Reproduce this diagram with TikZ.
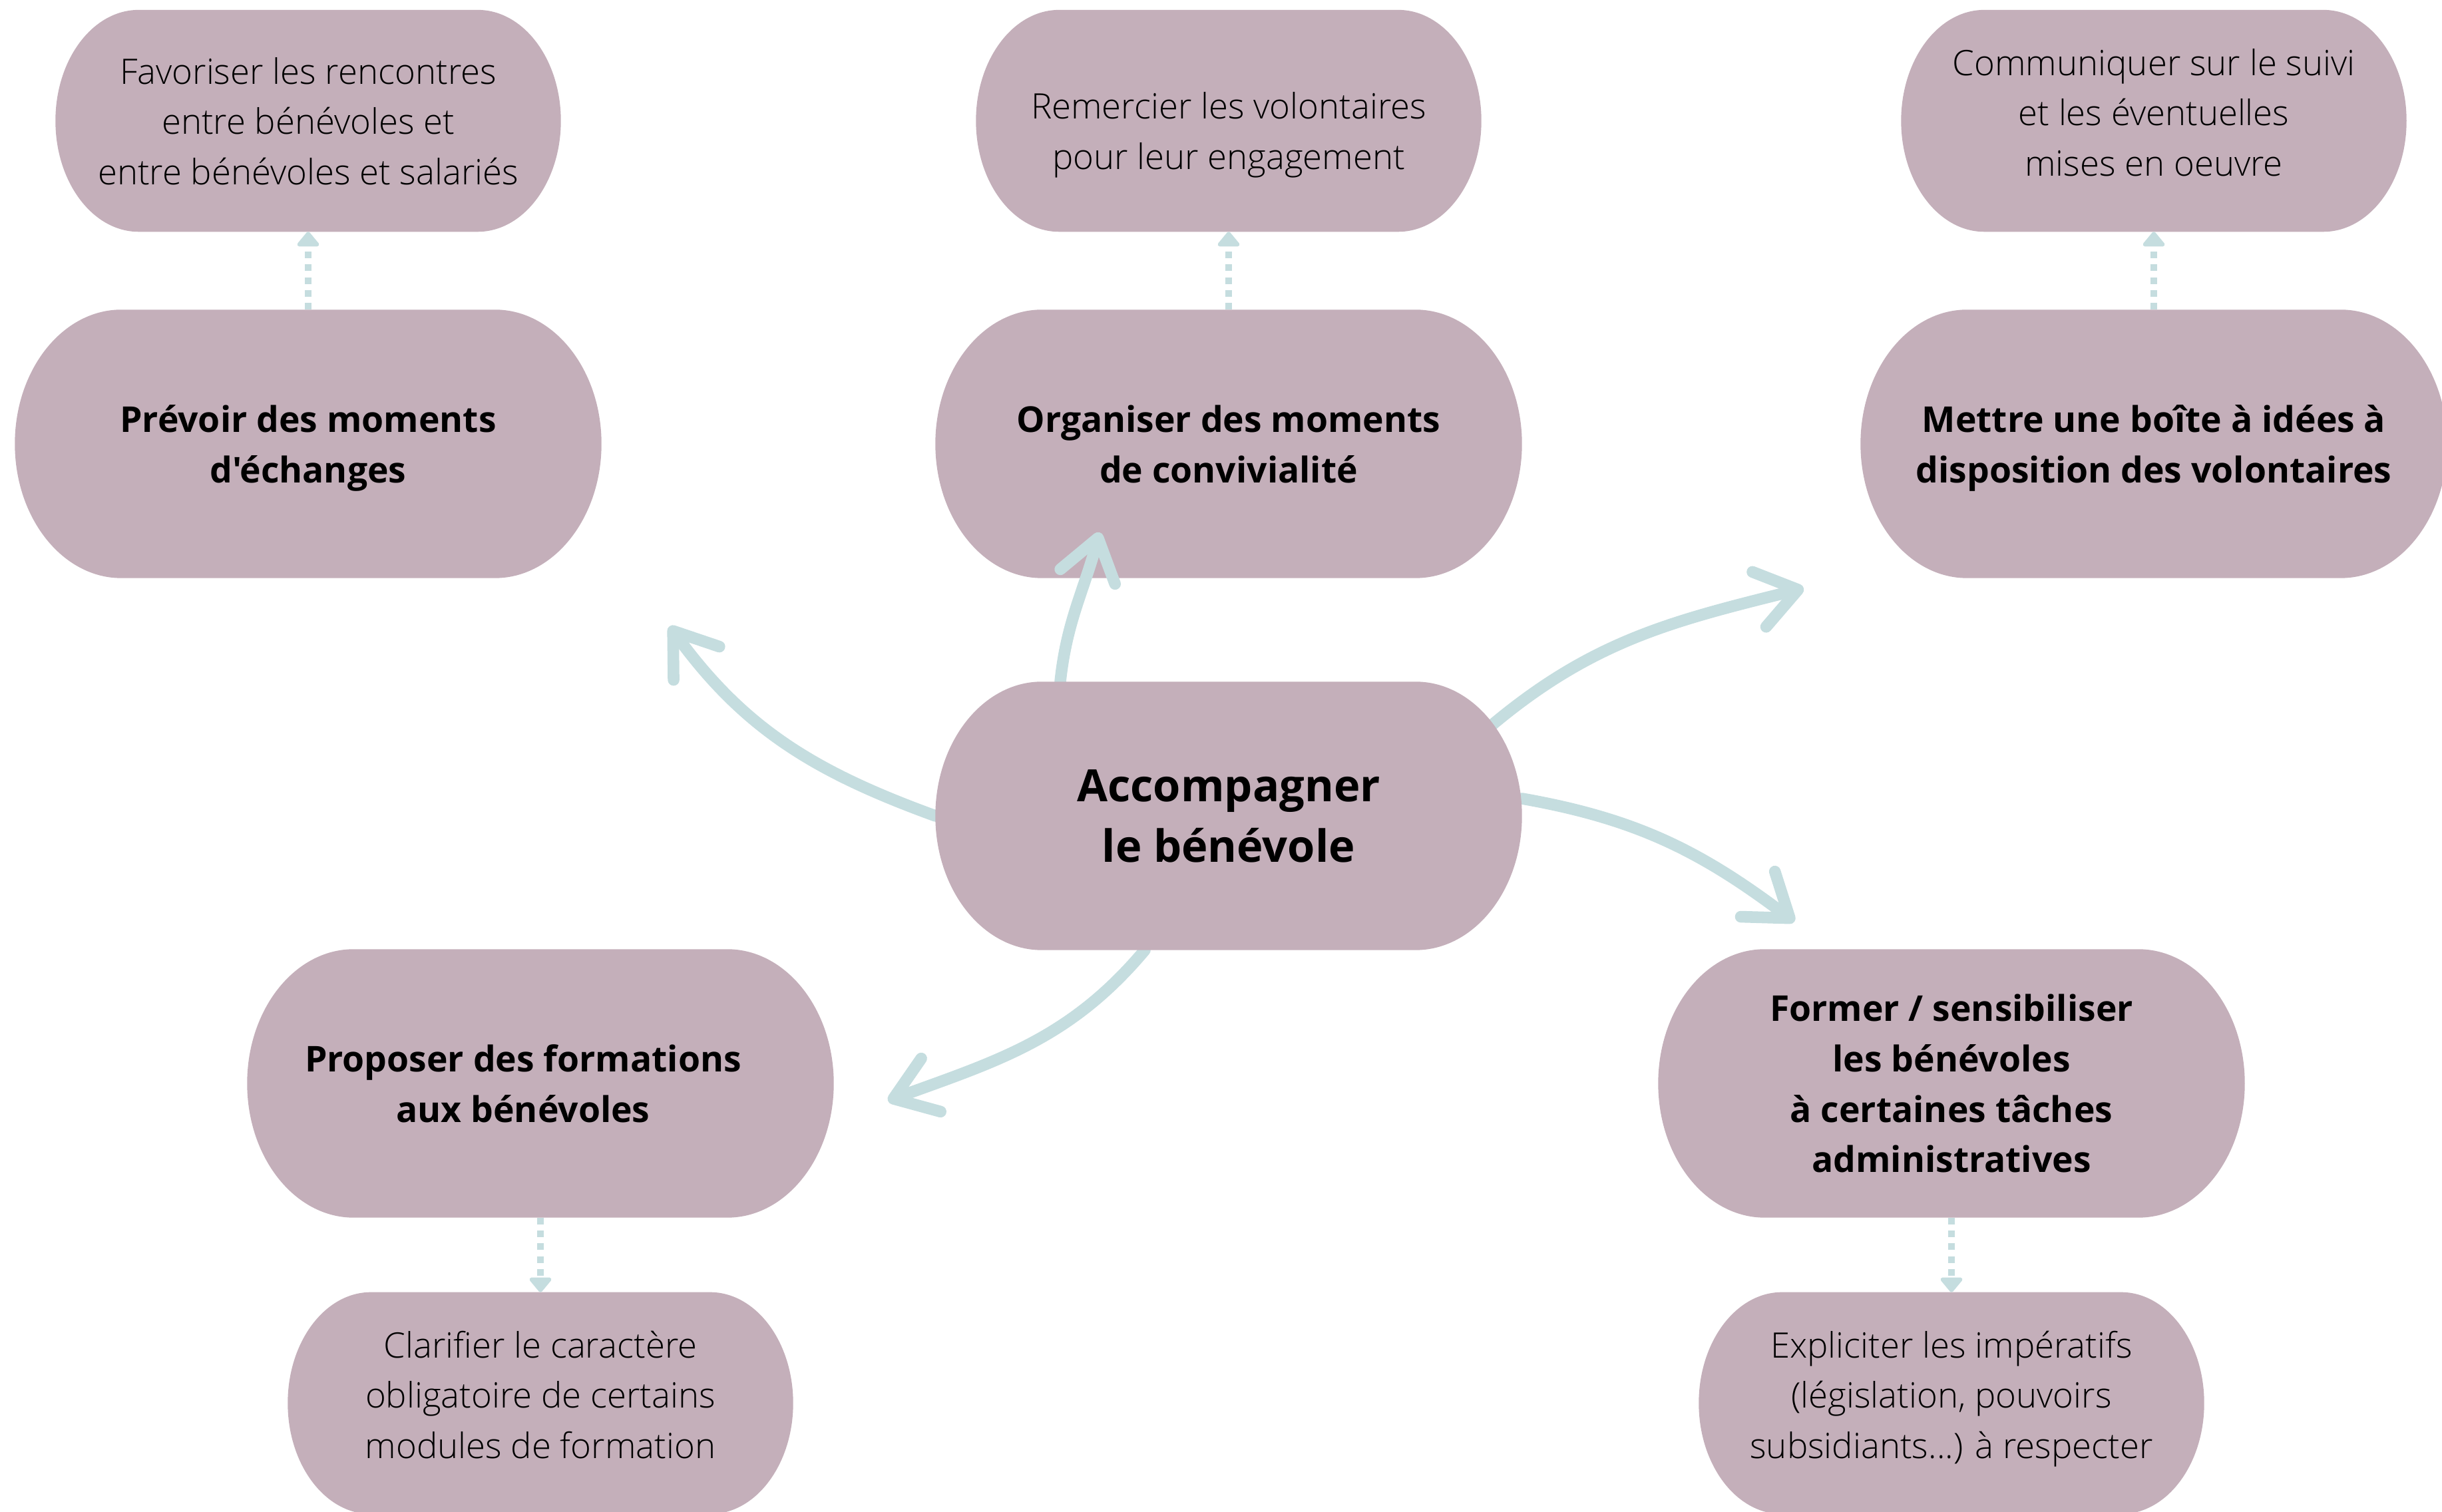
\documentclass[tikz,border=0pt]{standalone}
\usepackage{fontspec}
\setmainfont{Open Sans}[Ligatures=TeXOff]
\IfFontExistsTF{OpenSans-Light.ttf}
  {\newfontfamily\lightfont{OpenSans-Light.ttf}[Ligatures=TeXOff]}
  {\IfFontExistsTF{Open Sans Light}
    {\newfontfamily\lightfont{Open Sans Light}[Ligatures=TeXOff]}
    {\newfontfamily\lightfont{Open Sans}[Ligatures=TeXOff]}}
\usetikzlibrary{positioning,calc,arrows.meta,backgrounds}

\definecolor{pillmauve}{RGB}{196,175,186}
\definecolor{arrowteal}{RGB}{197,221,223}

% pill behind a node: #1 node name, #2 horizontal radius of the ends
\newcommand\pillfill[2]{%
  \fill[pillmauve] let \p1=(#1.north west), \p2=(#1.south east), \n1={(\y1-\y2)/2} in
    (\x1+#2,\y1) -- (\x2-#2,\y1)
    arc[start angle=90,end angle=-90,x radius=#2,y radius=\n1]
    -- (\x1+#2,\y2)
    arc[start angle=270,end angle=90,x radius=#2,y radius=\n1] -- cycle;}

\begin{document}
\begin{tikzpicture}[
    big/.style={minimum width=8.8cm,minimum height=4.02cm,align=center,inner sep=0pt,
      text depth=0pt,font=\fontsize{15.2}{21.5}\selectfont\bfseries},
    small/.style={minimum width=7.58cm,minimum height=3.32cm,align=center,inner sep=0pt,
      text depth=0.26cm,font=\fontsize{15}{21.5}\selectfont\lightfont},
    curvy/.style={arrowteal,line width=5pt,line cap=round,
      -{Straight Barb[length=6mm,width=8.5mm,round]}},
    dots/.style={arrowteal,line width=2.9pt,dash pattern=on 2.8pt off 2.7pt,
      -{Triangle[length=2.4mm,width=3.8mm,round]}}]
 \useasboundingbox (0,0) rectangle (36.69,22.72);

 % main ideas
 \node[big] (prevoir) at (4.63,16.05) {Prévoir des moments\\d'échanges};
 \node[big] (organiser) at (18.46,16.05) {Organiser des moments\\de convivialité};
 \node[big] (boite) at (32.36,16.05) {Mettre une boîte à idées à\\disposition des volontaires};
 \node[big,font=\fontsize{19}{26}\selectfont\bfseries] (acc) at (18.46,10.46) {Accompagner\\le bénévole};
 \node[big,execute at end node=\hskip0.52cm] (proposer) at (8.12,6.44) {Proposer des formations\\aux bénévoles};
 \node[big] (former) at (29.32,6.44) {Former / sensibiliser\\les bénévoles\\à certaines tâches\\administratives};

 % details
 \node[small,text depth=0pt,above=1.17cm of prevoir] (fav) {Favoriser les rencontres\\entre bénévoles et\\entre bénévoles et salariés};
 \node[small,text height=41.4pt,text depth=0pt,above=1.17cm of organiser] (remercier) {Remercier les volontaires\\pour leur engagement};
 \node[small,above=1.17cm of boite] (communiquer) {Communiquer sur le suivi\\et les éventuelles\\mises en oeuvre};
 \node[small,below=1.12cm of proposer] (clarifier) {Clarifier le caractère\\obligatoire de certains\\modules de formation};
 \node[small,below=1.12cm of former] (expliciter) {Expliciter les impératifs\\(législation, pouvoirs\\subsidiants...) à respecter};

 % free ends of the curved arrows
 \coordinate (p1) at (10.06,13.31);
 \coordinate (p2) at (16.52,14.72);
 \coordinate (p3) at (27.10,13.88);
 \coordinate (p4) at (26.96,8.87);
 \coordinate (p5) at (13.34,6.18);

 \begin{scope}[on background layer]
   \foreach \b in {prevoir,organiser,boite,proposer,former}
     {\pillfill{\b}{1.6cm}}
   \foreach \b in {fav,remercier,communiquer,clarifier,expliciter}
     {\pillfill{\b}{1.25cm}}

   \draw[dots] (prevoir.north) -- (fav.south);
   \draw[dots] (organiser.north) -- (remercier.south);
   \draw[dots] (boite.north) -- (communiquer.south);
   \draw[dots] (proposer.south) -- (clarifier.north);
   \draw[dots] (former.south) -- (expliciter.north);

   \draw[curvy] (acc.west) to[out=160,in=-54] (p1);
   \draw[curvy] ($(acc.north)+(-2.53,0)$) to[out=84,in=-105] (p2);
   \draw[curvy] ($(acc.center)+(3.95,1.36)$) to[out=40,in=-166] (p3);
   \draw[curvy] ($(acc.east)+(0,0.26)$) to[out=-10,in=143] (p4);
   \draw[curvy] ($(acc.south)+(-1.26,0)$) to[out=-130,in=20] (p5);

   \pillfill{acc}{1.6cm}
 \end{scope}
\end{tikzpicture}
\end{document}
